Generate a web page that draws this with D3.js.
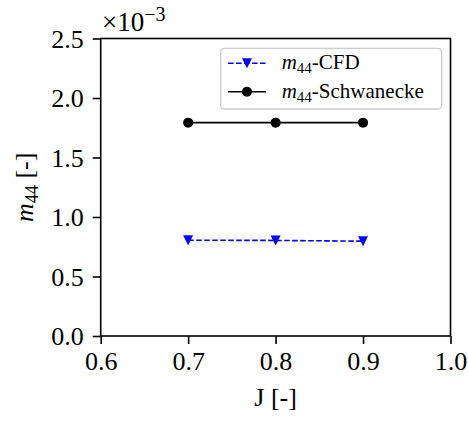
<!DOCTYPE html>
<html>
<head>
<meta charset="utf-8">
<script src="https://cdn.jsdelivr.net/npm/d3@7"></script>
<style>
  html, body { margin: 0; padding: 0; background: #fff; }
  svg { display: block; }
  text { font-family: "Liberation Serif", "DejaVu Serif", serif; fill: #000; }
</style>
</head>
<body>
<div id="chart"></div>
<script>
// Advance ratio J and the m44 coefficient (scaled by 1e-3) for both sources
const advanceRatio = [0.7, 0.8, 0.9];
const m44CFD = [0.805, 0.803, 0.797];
const m44Schwanecke = [1.793, 1.793, 1.793];

const xTicks = [0.6, 0.7, 0.8, 0.9, 1.0];
const yTicks = [0.0, 0.5, 1.0, 1.5, 2.0, 2.5];

const W = 468, H = 421;
const plot = { left: 100.7, right: 450.5, top: 38.5, bottom: 336 };

const svg = d3.select("#chart").append("svg")
  .attr("width", W).attr("height", H);

const x = d3.scaleLinear().domain([0.6, 1.0]).range([plot.left, plot.right]);
const y = d3.scaleLinear().domain([0, 2.5]).range([plot.bottom, plot.top]);

const tickFont = 26;

// axes
const xAxis = svg.append("g")
  .attr("transform", `translate(0,${plot.bottom})`)
  .call(d3.axisBottom(x).tickValues(xTicks).tickFormat(d3.format(".1f"))
    .tickSize(8).tickPadding(6));
const yAxis = svg.append("g")
  .attr("transform", `translate(${plot.left},0)`)
  .call(d3.axisLeft(y).tickValues(yTicks).tickFormat(d3.format(".1f"))
    .tickSize(8).tickPadding(9));

[xAxis, yAxis].forEach(g => {
  g.select(".domain").remove();
  g.selectAll(".tick line").attr("stroke", "#000").attr("stroke-width", 1.6);
  g.selectAll(".tick text")
    .style("font-family", '"Liberation Serif", serif')
    .style("font-size", tickFont + "px")
    .attr("fill", "#000");
});
xAxis.selectAll(".tick text").attr("dy", "0.75em");
yAxis.selectAll(".tick text").attr("dy", "0.34em");

// frame
svg.append("rect")
  .attr("x", plot.left).attr("y", plot.top)
  .attr("width", plot.right - plot.left).attr("height", plot.bottom - plot.top)
  .attr("fill", "none").attr("stroke", "#000").attr("stroke-width", 1.6);

// series
const pts = (vals) => advanceRatio.map((j, i) => [j, vals[i]]);
const line = d3.line().x(d => x(d[0])).y(d => y(d[1]));

svg.append("path")
  .datum(pts(m44CFD))
  .attr("d", line)
  .attr("fill", "none").attr("stroke", "#0000ff")
  .attr("stroke-width", 1.6).attr("stroke-dasharray", "5.6,2.4");

svg.append("path")
  .datum(pts(m44Schwanecke))
  .attr("d", line)
  .attr("fill", "none").attr("stroke", "#000")
  .attr("stroke-width", 1.6);

const tri = (cx, cy, s) =>
  `M${cx - s},${cy - s}L${cx + s},${cy - s}L${cx},${cy + s}Z`;

svg.append("g").selectAll("path")
  .data(pts(m44CFD))
  .join("path")
  .attr("d", d => tri(x(d[0]), y(d[1]), 5))
  .attr("fill", "#0000ff");

svg.append("g").selectAll("circle")
  .data(pts(m44Schwanecke))
  .join("circle")
  .attr("cx", d => x(d[0])).attr("cy", d => y(d[1]))
  .attr("r", 5).attr("fill", "#000");

// offset text
const off = svg.append("text")
  .attr("x", 102).attr("y", 31)
  .style("font-size", "27px");
off.append("tspan").text("×10");
off.append("tspan").attr("dy", -10).style("font-size", "20px").text("−3");

// axis titles
svg.append("text")
  .attr("x", (plot.left + plot.right) / 2).attr("y", 406)
  .attr("text-anchor", "middle")
  .style("font-size", "26px")
  .text("J [-]");

const yl = svg.append("text")
  .attr("transform", `translate(33,${(plot.top + plot.bottom) / 2}) rotate(-90)`)
  .attr("text-anchor", "middle")
  .style("font-size", "26px");
yl.append("tspan").style("font-style", "italic").text("m");
yl.append("tspan").attr("dy", 5).style("font-size", "18px").text("44");
yl.append("tspan").attr("dy", -5).text(" [-]");

// legend
const leg = svg.append("g");
leg.append("rect")
  .attr("x", 220.7).attr("y", 48.3).attr("width", 221).attr("height", 60.7)
  .attr("rx", 4).attr("fill", "#fff").attr("fill-opacity", 0.8)
  .attr("stroke", "#cccccc").attr("stroke-width", 1.3);

const legendItems = [
  { label: "-CFD", color: "#0000ff", dash: "5.6,2.4", marker: "tri", y: 63.3 },
  { label: "-Schwanecke", color: "#000", dash: null, marker: "circle", y: 91.7 }
];
legendItems.forEach(it => {
  leg.append("line")
    .attr("x1", 228).attr("x2", 266).attr("y1", it.y).attr("y2", it.y)
    .attr("stroke", it.color).attr("stroke-width", 1.6)
    .attr("stroke-dasharray", it.dash);
  if (it.marker === "tri") {
    leg.append("path").attr("d", tri(247, it.y, 5)).attr("fill", it.color);
  } else {
    leg.append("circle").attr("cx", 247).attr("cy", it.y).attr("r", 5).attr("fill", it.color);
  }
  const t = leg.append("text")
    .attr("x", 281.7).attr("y", it.y + 6)
    .style("font-size", "21px");
  t.append("tspan").style("font-style", "italic").text("m");
  t.append("tspan").attr("dy", 4).style("font-size", "15px").text("44");
  t.append("tspan").attr("dy", -4).text(it.label);
});
</script>
</body>
</html>
